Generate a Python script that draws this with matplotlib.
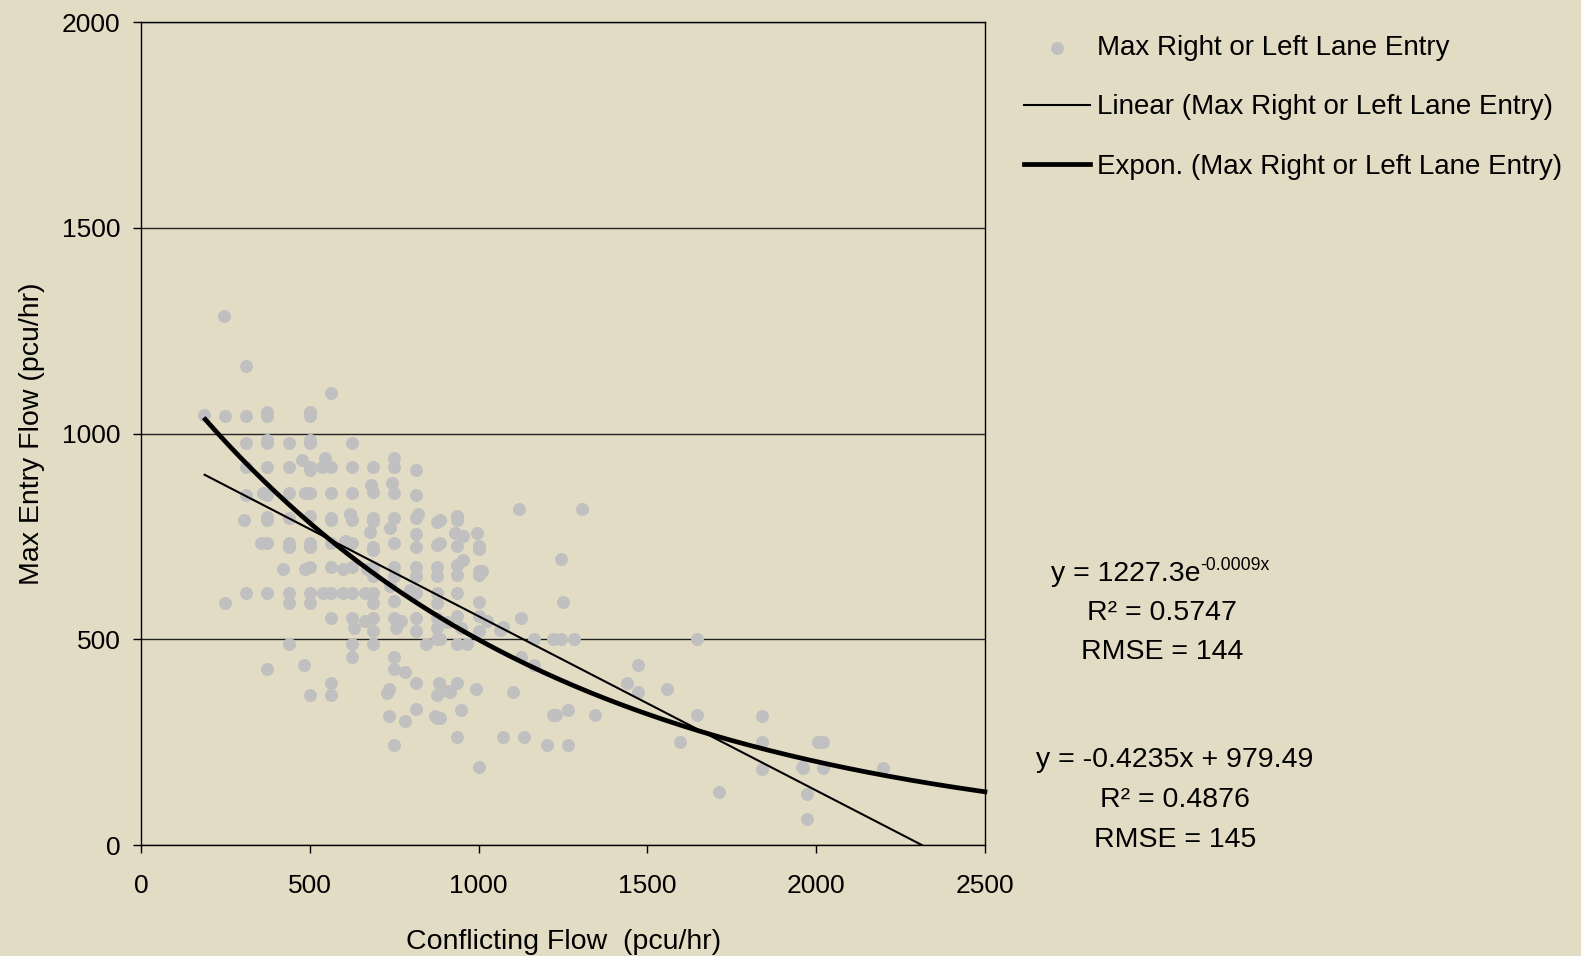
import sys
import numpy as np
import matplotlib
matplotlib.use("Agg")
from matplotlib import pyplot as plt

# conflicting flow (pcu/hr) of each observation
conflict_flow = [
    245, 311, 561,
    186, 248, 311, 374, 374, 500, 500,
    311, 374, 374, 437, 500, 500, 625,
    311, 374, 437, 475, 500, 500, 545, 537, 562, 625, 688, 750, 750, 813,
    311, 360, 374, 437, 485, 500, 562, 625, 680, 688, 742, 750, 813,
    305, 374, 374, 437, 500, 562, 562, 619, 625, 688, 688, 750, 813, 820, 875,
    354, 374, 437, 437, 500, 500, 562, 604, 625, 678, 688, 688, 737, 750, 813, 813, 875, 929, 954, 994,
    421, 485, 500, 562, 599, 625, 668, 688, 688, 750, 750, 813, 813, 875, 875,
    248, 311, 374, 437, 437, 500, 500, 540, 562, 599, 625, 663, 688, 688, 737, 750, 796, 813, 875, 875,
    562, 625, 630, 663, 688, 688, 750, 755, 770, 813, 813, 875, 875, 905,
    437, 625, 688, 845, 875,
    625, 750, 374, 483, 750, 782,
    500, 562, 562, 728, 735, 813, 875, 883, 908,
    735, 782, 813, 870, 875, 750,
    937, 937, 885, 885, 937, 1000, 1001, 954, 937, 1001, 1010, 937, 1002, 937, 1002,
    937, 1002, 1024, 947, 1002, 937, 964, 885, 937, 915, 992, 947, 937, 1001, 885,
    1118, 1306, 1244, 1251, 1063, 1071, 1125, 1165, 1221, 1243, 1282, 1646, 1125, 1165,
    1471, 1103, 1439, 1471, 1557, 1221, 1228, 1265, 1345, 1646, 1071, 1134, 1203, 1265, 1596,
    1838, 1838, 1838, 1957, 2006, 2019, 1962, 2019, 2199, 1712, 1972, 1974,
]

# max right or left lane entry flow (pcu/hr)
entry_flow = [
    1287, 1164, 1098,
    1045, 1043, 1043, 1043, 1053, 1043, 1053,
    976, 976, 985, 976, 976, 985, 976,
    918, 918, 918, 937, 918, 912, 940, 918, 918, 918, 918, 940, 918, 912,
    850, 855, 850, 855, 855, 855, 855, 855, 875, 858, 880, 855, 850,
    790, 790, 798, 795, 800, 795, 790, 805, 790, 795, 788, 795, 795, 805, 785,
    733, 733, 733, 725, 733, 725, 733, 740, 733, 760, 725, 718, 770, 733, 755, 725, 730, 758, 752, 758,
    670, 670, 675, 675, 670, 675, 670, 655, 675, 675, 655, 675, 655, 675, 655,
    589, 612, 612, 612, 589, 612, 589, 612, 612, 612, 612, 612, 612, 589, 630, 592, 620, 612, 612, 589,
    551, 551, 527, 545, 551, 520, 551, 527, 545, 551, 520, 551, 527, 543,
    489, 489, 489, 489, 500,
    458, 458, 429, 438, 429, 420,
    365, 393, 365, 370, 378, 393, 365, 393, 375,
    314, 301, 330, 314, 308, 243,
    800, 790, 790, 735, 726, 726, 719, 693, 680, 667, 667, 656, 656, 612, 591,
    557, 557, 545, 527, 520, 489, 489, 501, 393, 373, 378, 328, 263, 190, 309,
    816, 816, 694, 591, 523, 530, 551, 501, 501, 501, 501, 501, 458, 437,
    437, 373, 393, 373, 378, 316, 316, 328, 316, 316, 263, 263, 243, 243, 251,
    314, 251, 185, 190, 251, 250, 186, 186, 186, 128, 123, 64,
]

# trend lines as reported on the chart
expo_a, expo_b = 1227.3, -0.0009
lin_slope, lin_icpt = -0.4235, 979.49

x_ticks = [0, 500, 1000, 1500, 2000, 2500]
y_ticks = [0, 500, 1000, 1500, 2000]

BG = '#E3DCC5'
W, H = 1581, 956


def draw(out_path):
    plt.rcParams['font.family'] = ['Liberation Sans', 'DejaVu Sans']

    fig = plt.figure(figsize=(W / 100, H / 100), dpi=100, facecolor=BG)
    ax = fig.add_axes([0.0893, 0.1161, 0.5337, 0.8607])
    ax.set_facecolor(BG)

    # 散點
    ax.scatter(conflict_flow, entry_flow, s=88, color='#C0C0C0', linewidths=0,
               zorder=2, label='Max Right or Left Lane Entry')

    # 趨勢線
    xl = np.linspace(188, -lin_icpt / lin_slope, 50)
    ax.plot(xl, lin_slope * xl + lin_icpt, color='black', lw=1.5, zorder=3,
            label='Linear (Max Right or Left Lane Entry)')
    xe = np.linspace(190, 2500, 200)
    ax.plot(xe, expo_a * np.exp(expo_b * xe), color='black', lw=3.4, zorder=4,
            label='Expon. (Max Right or Left Lane Entry)', clip_on=False)

    ax.set_xlim(0, 2500)
    ax.set_ylim(0, 2000)
    ax.set_xticks(x_ticks)
    ax.set_yticks(y_ticks)
    ax.yaxis.grid(True, color='#222222', lw=1.0)
    ax.set_axisbelow(True)
    for s in ax.spines.values():
        s.set_color('black')
        s.set_linewidth(1.0)
    ax.tick_params(axis='both', direction='out', length=6, width=1.0,
                   labelsize=19, colors='black')
    ax.tick_params(axis='y', pad=9)
    ax.tick_params(axis='x', pad=15)

    ax.set_xlabel('Conflicting Flow  (pcu/hr)', fontsize=20.5, labelpad=22)
    ax.set_ylabel('Max Entry Flow (pcu/hr)', fontsize=20.5, labelpad=12)

    ax.legend(loc='upper left', bbox_to_anchor=(1024 / W, 1 - 35 / H),
              bbox_transform=fig.transFigure, frameon=False, fontsize=20,
              handlelength=2.37, handletextpad=0.25, labelspacing=1.2,
              borderpad=0, borderaxespad=0, scatterpoints=1)

    # 方程式文字
    fs = 20.5
    t1 = fig.text(1051 / W, 1 - 574 / H, 'y = 1227.3e', ha='left', va='center', fontsize=fs)
    fig.canvas.draw()
    bb = t1.get_window_extent()
    fig.text(bb.x1 / W, bb.y1 / H - 0.005, '-0.0009x', ha='left', va='center',
             fontsize=fs * 0.62)

    tx = 1162 / W
    fig.text(tx, 1 - 613 / H, 'R² = 0.5747', ha='center', va='center', fontsize=fs)
    fig.text(tx, 1 - 652 / H, 'RMSE = 144', ha='center', va='center', fontsize=fs)

    tx2 = 1175 / W
    fig.text(tx2, 1 - 760 / H, 'y = -0.4235x + 979.49', ha='center', va='center', fontsize=fs)
    fig.text(tx2, 1 - 800 / H, 'R² = 0.4876', ha='center', va='center', fontsize=fs)
    fig.text(tx2, 1 - 840 / H, 'RMSE = 145', ha='center', va='center', fontsize=fs)

    fig.savefig(out_path, dpi=100, facecolor=BG)


def main(argv=None):
    if argv is None:
        argv = sys.argv
    print(len(conflict_flow), len(entry_flow))
    draw('out.png')


if __name__ == '__main__':
    sys.exit(main())
